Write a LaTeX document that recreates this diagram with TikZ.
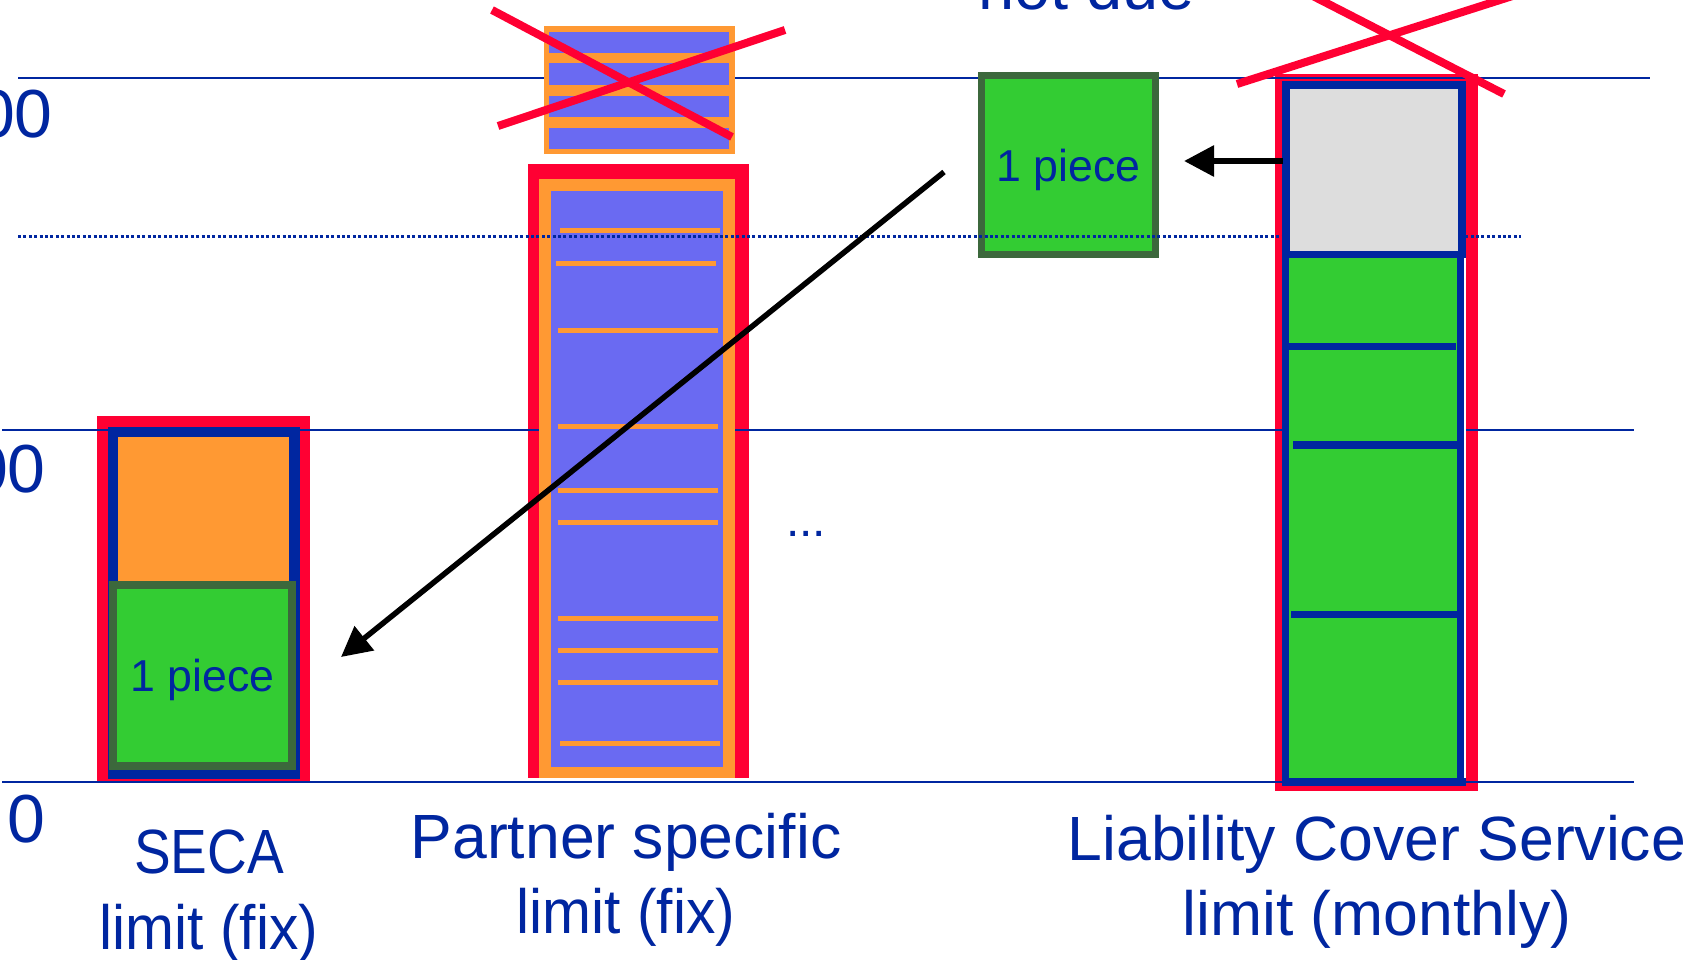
\documentclass[tikz,border=0pt]{standalone}
\usepackage{fontspec}
\setmainfont{Liberation Sans}
\usetikzlibrary{arrows.meta}
\definecolor{dblue}{RGB}{0,38,160}
\definecolor{xred}{RGB}{255,0,51}
\definecolor{xorange}{RGB}{255,153,51}
\definecolor{peri}{RGB}{106,106,242}
\definecolor{xgreen}{RGB}{51,204,51}
\definecolor{dgreen}{RGB}{60,104,60}
\definecolor{lgray}{RGB}{221,221,221}
\begin{document}
\begin{tikzpicture}[x=1pt,y=-1pt,
  axisline/.style={dblue,line width=2.4pt},
  dotline/.style={dblue,line width=3pt,dash pattern=on 3pt off 2.4pt},
  lbl/.style={text=dblue,inner sep=0pt,anchor=base,font=\fontsize{62.5}{70}\selectfont},
  axlbl/.style={text=dblue,inner sep=0pt,anchor=base east,font=\fontsize{68}{75}\selectfont},
  piecebox/.style={draw=dgreen,fill=xgreen,inner sep=0pt,text=dblue,
    font=\fontsize{44.7}{50}\selectfont,text height=32pt,text depth=0pt},
  cross/.style={xred,line width=8pt},
  stripe/.style={xorange},
  arr/.style={black,line width=6pt,-{Triangle[length=30pt,width=30pt]}}]
\useasboundingbox (0,0) rectangle (1696,959);
\fill[white] (0,0) rectangle (1696,959);
% red frames
\fill[xred] (97,416) rectangle (310,781);
\fill[xred] (528,164) rectangle (749,778);
\fill[xred] (1275,74) rectangle (1478,791);
% grid lines
\draw[axisline] (18,78) -- (1650,78);
\draw[axisline] (2,430) -- (1634,430);
\draw[axisline] (2,782) -- (1634,782);
% axis labels
\node[axlbl] (ax2) at (53,137) {00};
\node[axlbl] (ax1) at (46,492) {00};
\node[axlbl] (ax0) at (46,842) {0};
% SECA bar
\fill[dblue] (108,427) rectangle (300,779);
\fill[xorange] (118,437) rectangle (289,581);
\node[piecebox,line width=8pt,minimum width=179pt,minimum height=181pt] (pieceSeca) at (202.5,675.5) {1 piece};
% Partner bar
\fill[xorange] (539,179) rectangle (735,778);
\fill[peri] (551,191) rectangle (723,767);
\fill[stripe] (560,227.5) rectangle (720,232.5);
\fill[stripe] (556,260.5) rectangle (716,265.5);
\foreach \yy in {330,426,490,522,618,650,682}
  \fill[stripe] (558,\yy-2.5) rectangle (718,\yy+2.5);
\fill[stripe] (560,740.5) rectangle (720,745.5);
% crossed box above partner bar
\fill[xorange] (544,26) rectangle (735,154);
\foreach \ya/\yb in {32/53,63/85,96/117,128/149}
  \fill[peri] (549,\ya) rectangle (729,\yb);
\draw[cross] (492,10) -- (732,137);
\draw[cross] (498,126) -- (785,30);
% dots
\node[text=dblue,inner sep=0pt,anchor=base,font=\fontsize{48}{50}\selectfont] (dots) at (806,536) {...};
% top piece
\node[piecebox,line width=7pt,minimum width=174pt,minimum height=179pt] (pieceTop) at (1068.5,165) {1 piece};
\node[lbl,font=\fontsize{65}{70}\selectfont] (notdue) at (1086.5,9) {not due};
% dotted line
\draw[dotline] (18,236.5) -- (1521,236.5);
% Liability bar
\fill[dblue] (1282,81) rectangle (1466,786);
\node[fill=lgray,inner sep=0pt,minimum width=168pt,minimum height=162pt] (lcsTop) at (1374,170) {};
\fill[xgreen] (1289,258) rectangle (1457,778);
\fill[white] (1464,258) rectangle (1466,778);
\fill[dblue] (1289,343) rectangle (1456,350);
\fill[dblue] (1293,441) rectangle (1457,449);
\fill[dblue] (1291,611) rectangle (1457,618);
\draw[cross] (1237,84) -- (1525,-8);
\draw[cross] (1305,-8) -- (1504,94);
% arrows
\draw[arr] ([xshift=-7pt,yshift=9pt]lcsTop.west) -- ([xshift=25pt,yshift=4pt]pieceTop.east);
\coordinate (a2s) at (944,172);
\coordinate (a2e) at (341,657);
\draw[arr,line width=5.5pt] (a2s) -- (a2e);
% bottom labels
\node[lbl] (secaA) at (209,873) {\scalebox{0.88}[1]{SECA}};
\node[lbl] (secaB) at (209,949) {\scalebox{0.94}[1]{limit (fix)}};
\node[lbl] (partA) at (626,858) {Partner specific};
\node[lbl] (partB) at (626,933) {\scalebox{0.94}[1]{limit (fix)}};
\node[lbl] (lcsA) at (1377,860) {Liability Cover Service};
\node[lbl] (lcsB) at (1377,935) {limit (monthly)};
\end{tikzpicture}
\end{document}
